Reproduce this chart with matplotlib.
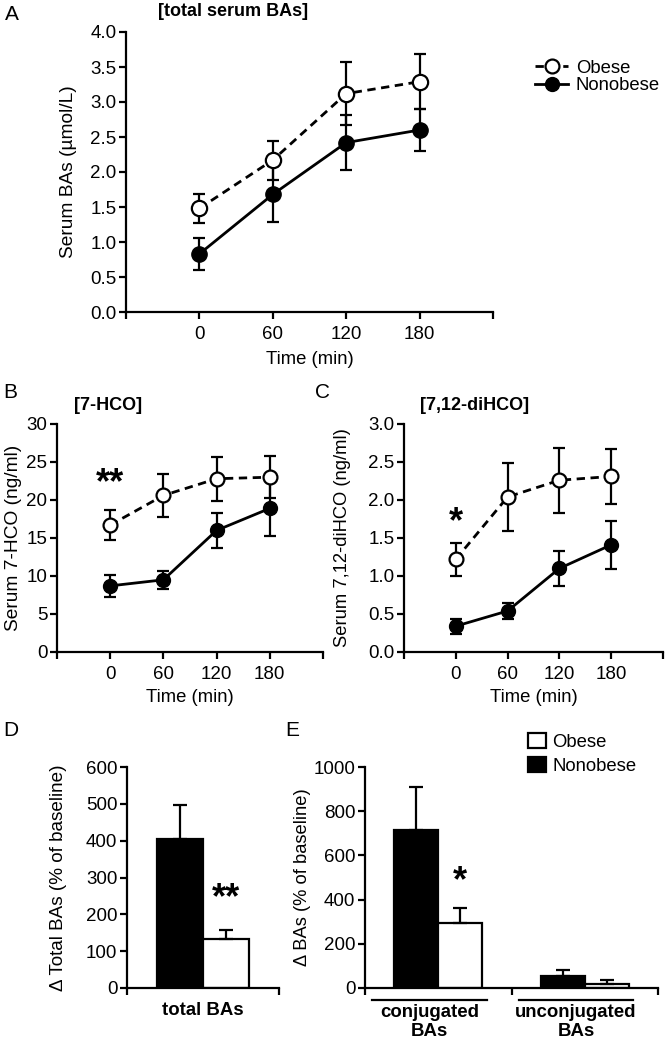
import numpy as np
import matplotlib
matplotlib.use("Agg")
import matplotlib.pyplot as plt
from matplotlib.lines import Line2D
from matplotlib.patches import Patch

plt.rcParams['font.family'] = ['Liberation Sans', 'DejaVu Sans']
plt.rcParams['font.size'] = 13
plt.rcParams['lines.dashed_pattern'] = [3.0, 2.0]

# ---- data ----
time = [0, 60, 120, 180]
time_labels = ['0', '60', '120', '180']

total_obese = [1.48, 2.17, 3.12, 3.29]
total_obese_err = [0.21, 0.28, 0.45, 0.39]
total_nonobese = [0.83, 1.68, 2.42, 2.60]
total_nonobese_err = [0.23, 0.40, 0.39, 0.30]

hco7_obese = [16.7, 20.6, 22.8, 23.0]
hco7_obese_err = [2.0, 2.85, 2.9, 2.75]
hco7_nonobese = [8.7, 9.5, 16.0, 18.9]
hco7_nonobese_err = [1.4, 1.2, 2.3, 3.7]

dihco_obese = [1.22, 2.04, 2.26, 2.31]
dihco_obese_err = [0.22, 0.45, 0.43, 0.36]
dihco_nonobese = [0.34, 0.54, 1.10, 1.41]
dihco_nonobese_err = [0.10, 0.11, 0.23, 0.32]

d_total_nonobese = [404]
d_total_nonobese_err = [92]
d_total_obese = [132]
d_total_obese_err = [25]

bar_groups = ['conjugated\nBAs', 'unconjugated\nBAs']
d_bas_nonobese = [713, 54]
d_bas_nonobese_err = [196, 26]
d_bas_obese = [294, 20]
d_bas_obese_err = [68, 15]

W, H = 667, 1043
fig = plt.figure(figsize=(W / 100, H / 100), dpi=100)


def box(l, r, top, bottom):
    return [l / W, 1 - bottom / H, (r - l) / W, (bottom - top) / H]


def style(ax):
    for s in ['top', 'right']:
        ax.spines[s].set_visible(False)
    for s in ['left', 'bottom']:
        ax.spines[s].set_linewidth(1.6)
    ax.tick_params(width=1.6, length=5, labelsize=13.5)
    ax.tick_params(axis='y', pad=2)
    ax.tick_params(axis='x', pad=5)


def line_panel(ax, obese, obese_err, nonobese, nonobese_err, ms):
    ax.errorbar(time, nonobese, yerr=nonobese_err, fmt='-o', color='k', mfc='k',
                mec='k', ms=ms, lw=2, elinewidth=1.6, capsize=4, capthick=1.6, zorder=3)
    ax.errorbar(time, obese, yerr=obese_err, fmt='--o', color='k', mfc='white',
                mec='k', ms=ms, mew=1.6, lw=2, elinewidth=1.6, capsize=4, capthick=1.6,
                zorder=4)
    ax.set_xlim(-60, 240)
    ax.set_xticks([-60] + time + [240], [''] + time_labels + [''])
    ax.set_xlabel('Time (min)', fontsize=13.3)
    style(ax)


def stars(ax, x, y, s):
    ax.annotate(s, (x, y), xytext=(0, -15), textcoords='offset points', ha='center',
                va='baseline', fontsize=26, fontweight='bold')


# ---- A ----
axA = fig.add_axes(box(126, 493, 32, 312))
line_panel(axA, total_obese, total_obese_err, total_nonobese, total_nonobese_err, 11)
axA.set_ylim(0, 4)
axA.set_yticks(np.arange(0, 4.01, 0.5))
axA.set_ylabel('Serum BAs (µmol/L)', fontsize=13.8)
axA.yaxis.set_label_coords(-0.1335, 0.5)
axA.xaxis.set_label_coords(0.5, -0.139)
handles = [Line2D([], [], color='k', ls='--', lw=2, marker='o', mfc='white', mec='k', ms=10, mew=1.6),
           Line2D([], [], color='k', ls='-', lw=2, marker='o', mfc='k', mec='k', ms=10)]
axA.legend(handles, ['Obese', 'Nonobese'], loc='center left', bbox_to_anchor=(535 / W, 1 - 77 / H),
           bbox_transform=fig.transFigure, frameon=False, handlelength=1.8, handletextpad=0.4,
           labelspacing=0.05, borderpad=0, borderaxespad=0, fontsize=13.3)

# ---- B ----
axB = fig.add_axes(box(57, 323, 424, 652))
line_panel(axB, hco7_obese, hco7_obese_err, hco7_nonobese, hco7_nonobese_err, 10)
axB.set_ylim(0, 30)
axB.set_yticks(np.arange(0, 31, 5))
axB.set_ylabel('Serum 7-HCO (ng/ml)', fontsize=13.8)
axB.yaxis.set_label_coords(-0.130, 0.5)
axB.xaxis.set_label_coords(0.5, -0.162)
stars(axB, 0, 23.7, '**')

# ---- C ----
axC = fig.add_axes(box(404, 663, 424, 652))
line_panel(axC, dihco_obese, dihco_obese_err, dihco_nonobese, dihco_nonobese_err, 10)
axC.set_ylim(0, 3)
axC.set_yticks(np.arange(0, 3.01, 0.5))
axC.set_ylabel('Serum 7,12-diHCO (ng/ml)', fontsize=13.2)
axC.yaxis.set_label_coords(-0.205, 0.5)
axC.xaxis.set_label_coords(0.5, -0.162)
stars(axC, 0, 1.85, '*')

bw = 0.3
bar_kw = dict(edgecolor='k', linewidth=1.6, capsize=5,
              error_kw=dict(elinewidth=1.6, capthick=1.6))

# ---- D ----
axD = fig.add_axes(box(127, 279, 767, 988))
axD.bar([-bw / 2], d_total_nonobese, bw, color='k',
        yerr=[[0], d_total_nonobese_err], **bar_kw)
axD.bar([bw / 2], d_total_obese, bw, color='white',
        yerr=[[0], d_total_obese_err], **bar_kw)
axD.set_xlim(-0.5, 0.5)
axD.set_ylim(0, 600)
axD.set_yticks(np.arange(0, 601, 100))
axD.set_xticks([-0.5, 0.5], ['', ''])
style(axD)
axD.set_ylabel('Δ Total BAs (% of baseline)', fontsize=13.6)
axD.yaxis.set_label_coords(-0.395, 0.5)
axD.text(0, -0.10, 'total BAs', transform=axD.get_xaxis_transform(), ha='center', va='center',
         fontweight='bold', fontsize=13.4)
stars(axD, bw / 2, 272, '**')

# ---- E ----
axE = fig.add_axes(box(365, 658, 767, 988))
xg = np.arange(len(bar_groups))
axE.bar(xg - bw / 2, d_bas_nonobese, bw, color='k',
        yerr=[[0, 0], d_bas_nonobese_err], **bar_kw)
axE.bar(xg + bw / 2, d_bas_obese, bw, color='white',
        yerr=[[0, 0], d_bas_obese_err], **bar_kw)
axE.set_xlim(-0.5, 1.5)
axE.set_ylim(0, 1000)
axE.set_yticks(np.arange(0, 1001, 200))
axE.set_xticks([-0.5, 0.5, 1.5], ['', '', ''])
style(axE)
axE.set_ylabel('Δ BAs (% of baseline)', fontsize=13.2)
axE.yaxis.set_label_coords(-0.184, 0.5)
tr = axE.get_xaxis_transform()
for i, lab in enumerate(bar_groups):
    axE.plot([i - 0.45, i + 0.33], [-0.054, -0.054], color='k', lw=1.6, transform=tr, clip_on=False)
    axE.text(i - 0.06, -0.152, lab, transform=tr, ha='center', va='center', fontweight='bold',
             fontsize=13.4, linespacing=1.15)
stars(axE, bw / 2, 532, '*')
leg_handles = [Patch(facecolor='white', edgecolor='k', linewidth=1.6),
               Patch(facecolor='k', edgecolor='k', linewidth=1.6)]
axE.legend(leg_handles, ['Obese', 'Nonobese'], loc='upper left', bbox_to_anchor=(528 / W, 1 - 733 / H),
           bbox_transform=fig.transFigure, frameon=False, handlelength=1.0, handleheight=0.85,
           handletextpad=0.3, labelspacing=0.35, borderpad=0, borderaxespad=0, fontsize=13.3)

# ---- titles and panel letters ----
fig.text(5 / W, 1 - 15 / H, 'A', fontsize=15, va='center')
fig.text(3 / W, 1 - 392 / H, 'B', fontsize=15, va='center')
fig.text(315 / W, 1 - 392 / H, 'C', fontsize=15, va='center')
fig.text(3 / W, 1 - 730 / H, 'D', fontsize=15, va='center')
fig.text(285 / W, 1 - 730 / H, 'E', fontsize=15, va='center')
fig.text(233 / W, 1 - 12 / H, '[total serum BAs]', fontsize=13, fontweight='bold', ha='center', va='center')
fig.text(108 / W, 1 - 405 / H, '[7-HCO]', fontsize=13, fontweight='bold', ha='center', va='center')
fig.text(475 / W, 1 - 405 / H, '[7,12-diHCO]', fontsize=13, fontweight='bold', ha='center', va='center')

fig.savefig('out.png', dpi=100)
